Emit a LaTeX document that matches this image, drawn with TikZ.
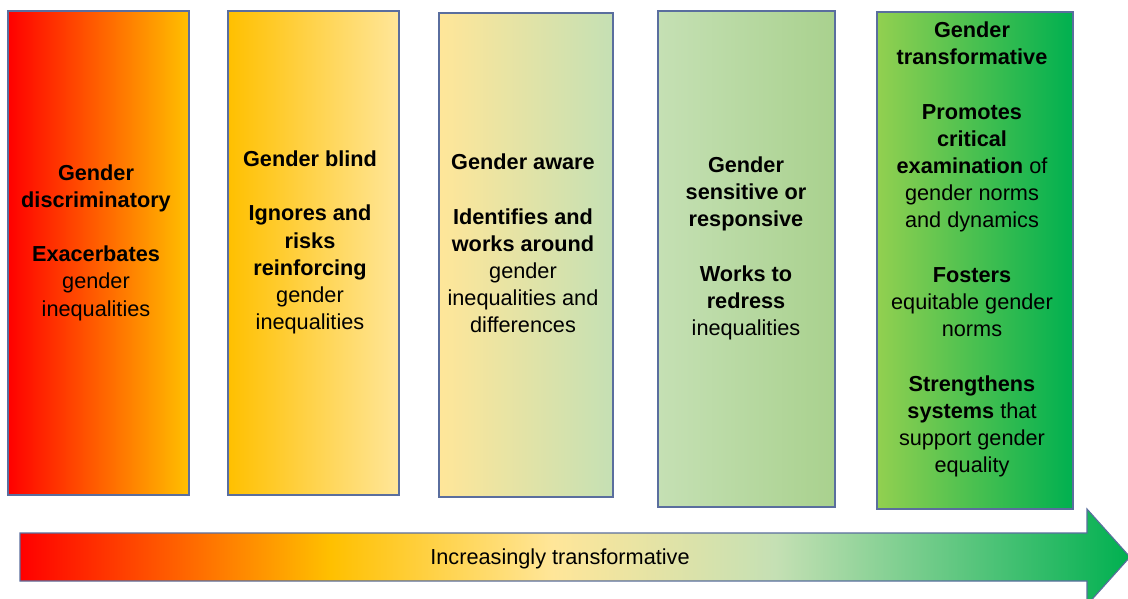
\documentclass[tikz,border=0pt]{standalone}
\usepackage{fontspec}
\setmainfont{Liberation Sans}
\definecolor{cRed}{HTML}{FF0000}
\definecolor{cGold}{HTML}{FFC000}
\definecolor{cLYel}{HTML}{FFE699}
\definecolor{cLGrn}{HTML}{C5E0B4}
\definecolor{cMGrn}{HTML}{A9D18E}
\definecolor{cBGrn}{HTML}{92D050}
\definecolor{cGrn}{HTML}{00B050}
\definecolor{cEdge}{HTML}{5A6E9E}
\pgfdeclarehorizontalshading{arrowshade}{100bp}{color(0bp)=(cRed); color(25bp)=(cRed); color(39bp)=(cGold); color(49bp)=(cLYel); color(59bp)=(cLGrn); color(75bp)=(cGrn); color(100bp)=(cGrn)}
\tikzset{
  box/.style={draw=cEdge, line width=1.1pt, inner sep=0pt},
  txt/.style={align=center, font=\fontsize{21.7}{27.2}\selectfont, inner sep=0pt, text=black},
}
\begin{document}
\begin{tikzpicture}[x=1pt,y=-1pt]
\useasboundingbox (0,0) rectangle (1128,599);
\fill[white] (0,0) rectangle (1128,599);
% boxes
\path[box, left color=cRed, right color=cGold] (8,11) rectangle (189,495);
\node[inner sep=0pt] (b1) at (98.5,253) {};
\path[box, left color=cGold, right color=cLYel] (228,11) rectangle (399,495);
\node[inner sep=0pt] (b2) at (313.5,253) {};
\path[box, left color=cLYel, right color=cLGrn] (439,13) rectangle (613,497);
\node[inner sep=0pt] (b3) at (526,255) {};
\path[box, left color=cLGrn, right color=cMGrn] (658,11) rectangle (835,507);
\node[inner sep=0pt] (b4) at (746.5,259) {};
\path[box, left color=cBGrn, right color=cGrn] (877,12) rectangle (1073,509);
\node[inner sep=0pt] (b5) at (975,260.5) {};
% texts
\node[txt] (t1) at (96,242.5) {\textbf{Gender}\\\textbf{discriminatory}\\[27.2pt]\textbf{Exacerbates}\\gender\\inequalities};
\node[txt] (t2) at (310,242.5) {\textbf{Gender blind}\\[27.2pt]\textbf{Ignores and}\\\textbf{risks}\\\textbf{reinforcing}\\gender\\inequalities};
\node[txt] (t3) at (523,243.5) {\textbf{Gender aware}\\[27.2pt]\textbf{Identifies and}\\\textbf{works around}\\gender\\inequalities and\\differences};
\node[txt] (t4) at (746,248.5) {\textbf{Gender}\\\textbf{sensitive or}\\\textbf{responsive}\\[27.2pt]\textbf{Works to}\\\textbf{redress}\\inequalities};
\node[txt] (t5) at (972,249.5) {\textbf{Gender}\\\textbf{transformative}\\[27.2pt]\textbf{Promotes}\\\textbf{critical}\\\textbf{examination} of\\gender norms\\and dynamics\\[27.2pt]\textbf{Fosters}\\equitable gender\\norms\\[27.2pt]\textbf{Strengthens}\\\textbf{systems} that\\support gender\\equality};
% arrow
\path[draw=cEdge, line width=1.1pt, shading=arrowshade]
  (20,533) -- (1087,533) -- (1087,509) -- (1130,557) -- (1087,605) -- (1087,581) -- (20,581) -- cycle;
\node[txt] (arr) at (560,559) {Increasingly transformative};
\end{tikzpicture}
\end{document}
